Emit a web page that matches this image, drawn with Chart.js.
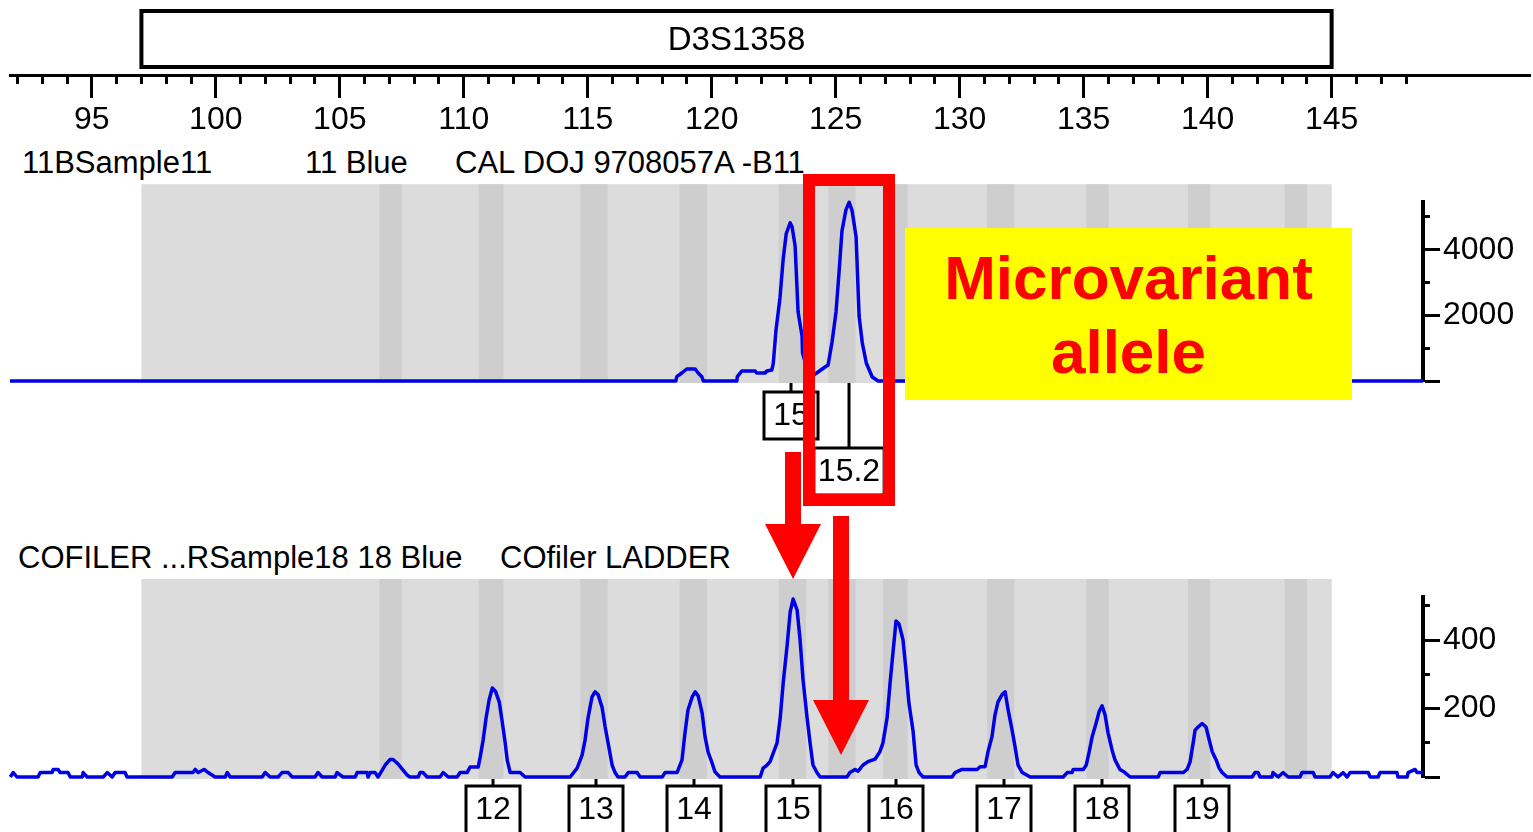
<!DOCTYPE html>
<html>
<head>
<meta charset="utf-8">
<title>D3S1358 microvariant</title>
<script src="https://cdn.jsdelivr.net/npm/chart.js@4.4.1/dist/chart.umd.min.js"></script>
<style>
    body { margin: 0; width: 1533px; height: 832px; overflow: hidden; position: relative; background: #fff;
           font-family: "Liberation Sans", Arial, sans-serif; }
    .wrap { position: absolute; left: 0; width: 1533px; }
    .run { position: absolute; font-size: 31px; line-height: 31px; white-space: pre; color: #000; }
    #notes { position: absolute; left: 0; top: 0; }
    #callout { position: absolute; left: 905px; top: 228px; width: 447px; height: 159px; padding-top: 13px;
               background: #ffff00; color: #ff0000; font-weight: bold; font-size: 62px; line-height: 74px;
               text-align: center; }
</style>
</head>
<body>
<div class="wrap" style="top:0;height:140px"><canvas id="sizeAxis"></canvas></div>

<div class="run" style="left:22px;top:147px">11BSample11</div>
<div class="run" style="left:305px;top:147px">11 Blue</div>
<div class="run" style="left:455px;top:147px">CAL DOJ 9708057A -B11</div>
<div class="wrap" style="top:180px;height:330px"><canvas id="sampleChart"></canvas></div>

<div class="run" style="left:18px;top:542px">COFILER ...RSample18 18 Blue</div>
<div class="run" style="left:500px;top:542px">COfiler LADDER</div>
<div class="wrap" style="top:560px;height:272px"><canvas id="ladderChart"></canvas></div>

<svg id="notes" width="1533" height="832">
    <rect x="809" y="180" width="80" height="320" fill="none" stroke="#ff0000" stroke-width="12"/>
    <polygon points="785,452 801,452 801,524 821,524 793,579 765,524 785,524" fill="#ff0000"/>
    <polygon points="833,516 849,516 849,700 869,700 841,755 813,700 833,700" fill="#ff0000"/>
</svg>
<div id="callout">Microvariant<br>allele</div>

<script>
// size axis (bp)
const bpMin = 91.7, bpMax = 153, panelMax = 148.68;
const minorBpTicks = [92, 93, 94, 95, 96, 97, 98, 99, 100, 101, 102, 103, 104, 105, 106, 107, 108, 109, 110,
    111, 112, 113, 114, 115, 116, 117, 118, 119, 120, 121, 122, 123, 124, 125, 126, 127, 128, 129, 130,
    131, 132, 133, 134, 135, 136, 137, 138, 139, 140, 141, 142, 143, 144, 145, 146, 147, 148];
const majorBpTicks = [95, 100, 105, 110, 115, 120, 125, 130, 135, 140, 145];

// marker range and allele bins
const markerName = 'D3S1358';
const markerStart = 97, markerEnd = 145;
const binStarts = [106.6, 110.6, 114.7, 118.7, 122.7, 124.7, 126.9, 131.1, 135.1, 139.2, 143.1];
const binEnds = [107.5, 111.6, 115.8, 119.8, 123.8, 125.8, 127.9, 132.2, 136.0, 140.1, 144.0];

// sample 11 trace
const sampleBp = [91.7, 118.55, 118.59, 118.79, 118.99, 119.33, 119.45, 119.6, 119.66, 121.01, 121.03, 121.21,
    121.75, 121.81, 122.15, 122.22, 122.42, 122.48, 122.59, 122.75, 122.88, 123.0, 123.16, 123.24, 123.36,
    123.48, 123.64, 123.66, 123.85, 124.05, 124.17, 124.57, 124.69, 124.85, 125.01, 125.13, 125.25, 125.41,
    125.54, 125.66, 125.82, 125.94, 126.07, 126.23, 126.35, 126.47, 126.71, 148.68];
const sampleRfu = [0, 0, 131, 244, 366, 366, 244, 131, 0, 0, 131, 305,
    305, 244, 244, 305, 335, 540, 1555, 2531, 3720, 4483, 4819, 4697, 4117,
    2104, 1372, 850, 350, 150, 213, 427, 488, 1189, 2104, 3294, 4575, 5215,
    5450, 5185, 4392, 1982, 1159, 549, 335, 122, 0, 0];
const sampleTicks = [0, 1000, 2000, 3000, 4000, 5000];
const sampleLabelTicks = [0, 2000, 4000];
const sampleCalls = ['15', '15.2'];
const sampleCallBp = [123.2, 125.54];
const sampleCallRow = [0, 1];

// COfiler ladder trace
const ladderBp = [91.71, 91.83, 91.98, 92.83, 92.92, 93.4, 93.44, 93.64, 93.72, 94.04, 94.13, 94.61, 94.65,
    94.81, 95.46, 95.62, 95.82, 95.94, 96.34, 96.42, 98.24, 98.36, 99.08, 99.17, 99.29, 99.53, 99.69, 99.97,
    100.38, 100.46, 100.58, 101.87, 101.99, 102.19, 102.51, 102.67, 102.92, 103.08, 104.0, 104.12, 104.29,
    104.81, 104.89, 105.13, 105.62, 105.7, 106.1, 106.14, 106.22, 106.42, 106.54, 106.71, 106.83, 107.03,
    107.15, 107.35, 107.55, 107.71, 107.83, 108.16, 108.24, 108.36, 108.52, 109.04, 109.17, 109.37, 109.73,
    109.85, 110.13, 110.25, 110.58, 110.66, 110.78, 110.9, 111.02, 111.15, 111.28, 111.43, 111.55, 111.67,
    111.75, 111.87, 112.27, 112.47, 114.29, 114.57, 114.77, 114.89, 115.01, 115.17, 115.29, 115.42, 115.58,
    115.7, 115.82, 115.98, 116.1, 116.22, 116.5, 116.63, 116.99, 117.11, 118.0, 118.12, 118.6, 118.8,
    118.92, 119.04, 119.21, 119.33, 119.45, 119.61, 119.73, 119.85, 120.01, 120.13, 120.33, 121.95, 122.07,
    122.23, 122.35, 122.63, 122.76, 122.88, 123.04, 123.16, 123.28, 123.44, 123.56, 123.68, 123.84, 123.96,
    124.08, 124.24, 124.37, 125.45, 125.57, 125.78, 125.9, 126.1, 126.3, 126.58, 126.78, 126.9, 127.07,
    127.19, 127.31, 127.43, 127.55, 127.71, 127.83, 127.95, 128.12, 128.24, 128.36, 128.52, 129.69, 129.81,
    130.09, 130.7, 130.82, 131.02, 131.14, 131.3, 131.42, 131.54, 131.7, 131.83, 131.95, 132.11, 132.23,
    132.35, 132.52, 132.84, 134.17, 134.33, 134.53, 134.57, 134.98, 135.1, 135.22, 135.34, 135.5, 135.62,
    135.74, 135.86, 135.98, 136.14, 136.26, 136.46, 136.66, 136.87, 138.0, 138.08, 139.01, 139.17, 139.29,
    139.41, 139.49, 139.61, 139.77, 139.93, 140.06, 140.18, 140.34, 140.46, 140.58, 140.78, 141.79, 141.91,
    142.03, 142.11, 142.59, 142.63, 142.84, 143.04, 143.24, 143.72, 143.8, 144.25, 144.33, 144.93, 145.05,
    145.25, 145.46, 145.62, 145.74, 146.47, 146.55, 146.87, 146.95, 147.63, 147.67, 148.04, 148.08, 148.36,
    148.44, 148.68];
const ladderRfu = [0, 13, 0, 0, 13, 13, 22, 22, 13, 13, 0, 0, 13,
    0, 0, 13, 0, 13, 13, 0, 0, 13, 13, 22, 13, 22, 13, 0,
    0, 13, 0, 0, 13, 0, 0, 13, 13, 0, 0, 13, 0,
    0, 13, 0, 0, 13, 13, 0, 13, 13, 0, 20, 35, 51,
    51, 38, 20, 6, 0, 0, 13, 13, 0, 0, 13, 0, 0,
    13, 13, 29, 29, 58, 108, 173, 225, 260, 250, 219, 161, 99,
    50, 13, 13, 0, 0, 26, 64, 108, 173, 234, 249, 240, 202,
    146, 99, 35, 13, 0, 0, 13, 13, 0, 0, 13, 13, 50,
    129, 196, 234, 249, 237, 187, 117, 73, 41, 15, 0, 0, 26,
    35, 45, 99, 173, 275, 386, 482, 520, 488, 401, 284, 175, 102,
    35, 13, 0, 0, 13, 22, 17, 35, 45, 52, 74, 99, 173,
    275, 366, 456, 447, 401, 313, 216, 132, 35, 13, 0, 0, 13,
    22, 22, 30, 30, 74, 118, 181, 219, 240, 249, 196, 137, 88,
    35, 13, 0, 0, 13, 13, 22, 22, 35, 74, 118, 158, 191,
    208, 181, 129, 79, 50, 22, 13, 0, 0, 13, 13, 22, 45,
    99, 137, 146, 156, 146, 108, 74, 50, 26, 13, 0, 0, 13,
    13, 0, 0, 13, 0, 13, 0, 0, 13, 13, 0, 0, 13,
    0, 13, 0, 13, 13, 0, 0, 13, 13, 0, 0, 13, 22,
    13, 13];
const ladderTicks = [0, 100, 200, 300, 400, 500];
const ladderLabelTicks = [0, 200, 400];
const ladderCalls = ['12', '13', '14', '15', '16', '17', '18', '19'];
const ladderCallBp = [111.17, 115.32, 119.3, 123.29, 127.43, 131.79, 135.73, 139.78];
const ladderCallRow = [0, 0, 0, 0, 0, 0, 0, 0];

const traceColor = '#0000e6';
const fontStack = '"Liberation Sans", Arial, sans-serif';
Chart.defaults.font.family = fontStack;
Chart.defaults.color = '#000';

// marker name box above the size axis
const markerBox = {
    id: 'markerBox',
    afterDraw(chart) {
        const { ctx } = chart;
        const x = chart.scales.x;
        const left = x.getPixelForValue(markerStart);
        const right = x.getPixelForValue(markerEnd);
        ctx.save();
        ctx.lineWidth = 4;
        ctx.strokeStyle = '#000';
        ctx.strokeRect(left, 11, right - left, 56);
        ctx.fillStyle = '#000';
        ctx.font = '33px ' + fontStack;
        ctx.textAlign = 'center';
        ctx.textBaseline = 'middle';
        ctx.fillText(markerName, (left + right) / 2, 41);
        ctx.restore();
    }
};

// grey marker range with darker allele bins
const binShading = {
    id: 'binShading',
    beforeDatasetsDraw(chart) {
        const { ctx, chartArea } = chart;
        const x = chart.scales.x;
        const top = chartArea.top - 18;
        const h = chartArea.bottom + 2 - top;
        const a = x.getPixelForValue(markerStart);
        ctx.save();
        ctx.fillStyle = '#dcdcdc';
        ctx.fillRect(a, top, x.getPixelForValue(markerEnd) - a, h);
        ctx.fillStyle = '#cecece';
        binStarts.forEach((s, i) => {
            const b = x.getPixelForValue(s);
            ctx.fillRect(b, top, x.getPixelForValue(binEnds[i]) - b, h);
        });
        ctx.restore();
    }
};

// allele call boxes under the trace
const alleleLabels = {
    id: 'alleleLabels',
    afterDraw(chart, args, opts) {
        const { ctx, chartArea } = chart;
        const x = chart.scales.x;
        ctx.save();
        ctx.font = '32px ' + fontStack;
        ctx.lineWidth = 3;
        ctx.strokeStyle = '#000';
        ctx.textAlign = 'center';
        ctx.textBaseline = 'middle';
        opts.calls.forEach((name, i) => {
            const px = Math.round(x.getPixelForValue(opts.sizes[i]));
            const top = chartArea.bottom + opts.gap + opts.rows[i] * opts.rowStep;
            const w = Math.max(54, ctx.measureText(name).width + 8);
            ctx.beginPath();
            ctx.moveTo(px, chartArea.bottom + 2);
            ctx.lineTo(px, top);
            ctx.stroke();
            ctx.fillStyle = '#fff';
            ctx.fillRect(px - w / 2, top, w, opts.height);
            ctx.strokeRect(px - w / 2, top, w, opts.height);
            ctx.fillStyle = '#000';
            ctx.fillText(name, px, top + 24);
        });
        ctx.restore();
    }
};

document.addEventListener('DOMContentLoaded', () => {
    // Size axis
    new Chart(document.getElementById('sizeAxis'), {
        type: 'scatter',
        data: { datasets: [] },
        options: {
            responsive: true,
            maintainAspectRatio: false,
            animation: false,
            events: [],
            layout: { padding: { left: 10, right: 3, top: 0, bottom: 0 } },
            plugins: { legend: { display: false }, tooltip: { enabled: false } },
            scales: {
                x: {
                    type: 'linear', position: 'bottom', min: bpMin, max: bpMax, weight: 0,
                    ticks: { display: false },
                    grid: { drawOnChartArea: false, tickLength: 9, tickWidth: 3, tickColor: '#000' },
                    border: { color: '#000', width: 3 },
                    afterBuildTicks: s => { s.ticks = minorBpTicks.map(v => ({ value: v })); },
                    afterFit: s => { s.height = 9; }
                },
                xMajor: {
                    type: 'linear', axis: 'x', position: 'bottom', min: bpMin, max: bpMax, weight: 1,
                    ticks: { padding: 3, autoSkip: false, maxRotation: 0, font: { size: 32 }, callback: v => String(v) },
                    grid: { drawOnChartArea: false, tickLength: 14, tickWidth: 3, tickColor: '#000' },
                    border: { display: false },
                    afterBuildTicks: s => { s.ticks = majorBpTicks.map(v => ({ value: v })); },
                    afterFit: s => { s.height = 56; }
                },
                y: { display: false, min: 0, max: 1 }
            }
        },
        plugins: [markerBox]
    });

    function makePanel(canvasId, bp, rfu, yMax, minorTicks, labelTicks, padTop, padBottom, labels) {
        return new Chart(document.getElementById(canvasId), {
            type: 'line',
            data: {
                datasets: [{
                    data: bp.map((b, i) => ({ x: b, y: rfu[i] })),
                    borderColor: traceColor,
                    borderWidth: 3.5,
                    borderJoinStyle: 'round',
                    pointRadius: 0,
                    tension: 0,
                    clip: 6
                }]
            },
            options: {
                responsive: true,
                maintainAspectRatio: false,
                animation: false,
                events: [],
                layout: { padding: { left: 10, right: 0, top: padTop, bottom: padBottom } },
                plugins: { legend: { display: false }, tooltip: { enabled: false }, alleleLabels: labels },
                scales: {
                    x: { type: 'linear', display: false, min: bpMin, max: panelMax },
                    y: {
                        type: 'linear', position: 'right', min: 0, max: yMax, weight: 0,
                        ticks: { display: false },
                        grid: { drawOnChartArea: false, tickLength: 7, tickWidth: 3, tickColor: '#000' },
                        border: { color: '#000', width: 4 },
                        afterBuildTicks: s => { s.ticks = minorTicks.map(v => ({ value: v })); },
                        afterFit: s => { s.width = 7; }
                    },
                    yMajor: {
                        type: 'linear', axis: 'y', position: 'right', min: 0, max: yMax, weight: 1,
                        ticks: { padding: 3, font: { size: 32 }, callback: v => (v === 0 ? '' : String(v)) },
                        grid: { drawOnChartArea: false, tickLength: 10, tickWidth: 3, tickColor: '#000' },
                        border: { display: false },
                        afterBuildTicks: s => { s.ticks = labelTicks.map(v => ({ value: v })); },
                        afterFit: s => { s.width = 103; }
                    }
                }
            },
            plugins: [binShading, alleleLabels]
        });
    }

    // Sample panel
    makePanel('sampleChart', sampleBp, sampleRfu, 5450, sampleTicks, sampleLabelTicks, 22, 129,
        { calls: sampleCalls, sizes: sampleCallBp, rows: sampleCallRow, gap: 11, rowStep: 56, height: 47 });

    // Ladder panel
    makePanel('ladderChart', ladderBp, ladderRfu, 526, ladderTicks, ladderLabelTicks, 37, 55,
        { calls: ladderCalls, sizes: ladderCallBp, rows: ladderCallRow, gap: 9, rowStep: 0, height: 60 });
});
</script>
</body>
</html>
